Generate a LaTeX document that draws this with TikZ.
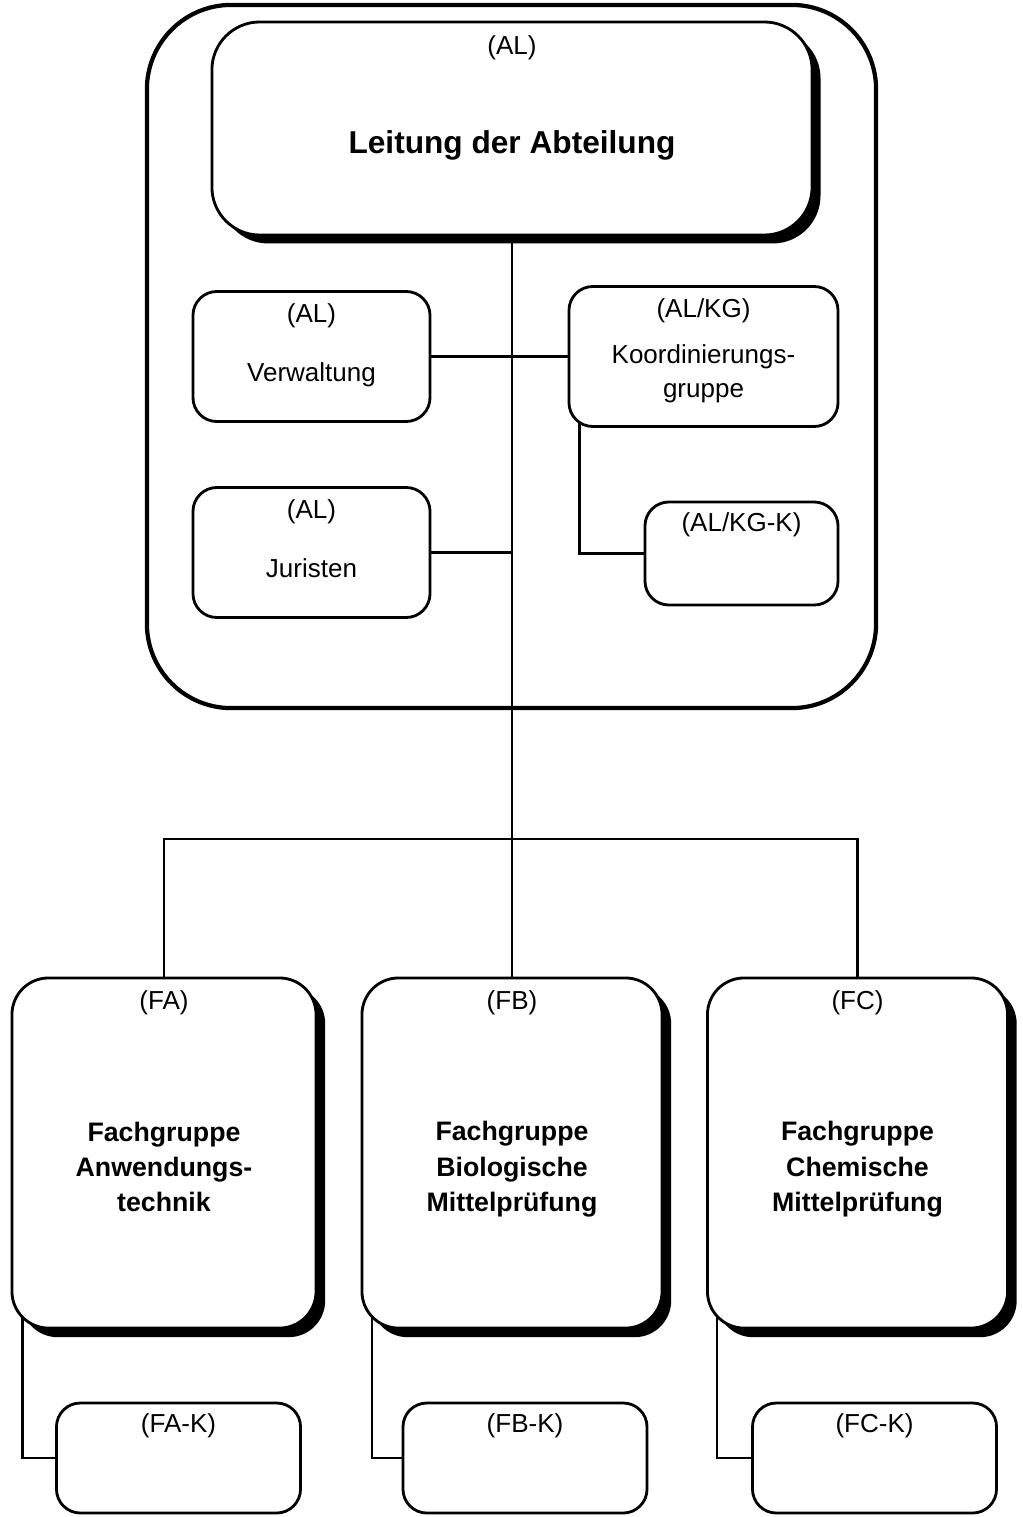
\documentclass[tikz,border=0pt]{standalone}
\usepackage{fontspec}
\setmainfont{Liberation Sans}
\usetikzlibrary{positioning, shadows, backgrounds, calc}

\begin{document}
\begin{tikzpicture}[
    x=0.025cm, y=-0.025cm,
    dept/.style={draw, line width=3pt, rounded corners=60pt, minimum width=18.225cm, minimum height=17.575cm},
    leadbox/.style={draw, line width=2pt, fill=white, rounded corners=34pt, minimum width=15cm, minimum height=5.325cm,
        drop shadow={shadow xshift=6pt, shadow yshift=-6pt, fill=black, opacity=1}},
    unitbox/.style={draw, line width=2pt, fill=white, rounded corners=17pt, minimum width=5.925cm, minimum height=3.25cm},
    coordbox/.style={draw, line width=2pt, fill=white, rounded corners=17pt, minimum width=6.725cm, minimum height=3.5cm},
    groupbox/.style={draw, line width=2pt, fill=white, rounded corners=26pt, minimum width=7.5cm, minimum height=8.75cm,
        drop shadow={shadow xshift=6.5pt, shadow yshift=-6.5pt, fill=black, opacity=1}},
    subbox/.style={draw, line width=2pt, fill=white, rounded corners=17pt, minimum width=6.1cm, minimum height=2.75cm},
    abbr/.style={font=\fontsize{18.5}{22}\selectfont, inner sep=0pt},
    unittext/.style={font=\fontsize{18.5}{24}\selectfont, align=center, inner sep=0pt},
    leadtext/.style={font=\fontsize{22.5}{27}\selectfont\bfseries, inner sep=0pt},
    grouptext/.style={font=\fontsize{19}{25}\selectfont\bfseries, align=center, inner sep=0pt},
    link/.style={line width=1.6pt}
]
    \useasboundingbox (0,0) rectangle (1023,1517);

    % Abteilung (outer frame)
    \node[dept] (dept) at (511.5,356.5) {};

    % Leitung
    \node[leadbox] (lead) at (512,128.5) {};
    \node[abbr] (leadabbr) at ([yshift=-19pt]lead.north) {(AL)};
    \node[leadtext] (leadname) at ([yshift=-12pt]lead.center) {Leitung der Abteilung};

    % Stabsstellen
    \node[unitbox] (verw) at (311.5,356.5) {};
    \node[abbr] (verwabbr) at ([yshift=-18.5pt]verw.north) {(AL)};
    \node[unittext] (verwname) at ([yshift=-13pt]verw.center) {Verwaltung};

    \node[unitbox] (jur) at (311.5,552.5) {};
    \node[abbr] (jurabbr) at ([yshift=-18.5pt]jur.north) {(AL)};
    \node[unittext] (jurname) at ([yshift=-11.5pt]jur.center) {Juristen};

    \node[coordbox] (kg) at (703.5,356.5) {};
    \node[abbr] (kgabbr) at ([yshift=-18pt]kg.north) {(AL/KG)};
    \node[unittext] (kgname) at ([yshift=-12.5pt]kg.center) {Koordinierungs-\\gruppe};

    \node[subbox, minimum width=4.825cm, minimum height=2.575cm] (kgk) at (741.5,553.5) {};
    \node[abbr] (kgkabbr) at ([yshift=-17.5pt]kgk.north) {(AL/KG-K)};

    % Fachgruppen
    \coordinate (bus) at (512,839);

    \node[groupbox, minimum width=7.6cm] (fa) at (164,1153) {};
    \node[abbr] (faabbr) at ([yshift=-18.5pt]fa.north) {(FA)};
    \node[grouptext] (faname) at ([yshift=-10pt]fa.center) {Fachgruppe\\Anwendungs-\\technik};

    \node[groupbox] (fb) at (512,1153) {};
    \node[abbr] (fbabbr) at ([yshift=-18.5pt]fb.north) {(FB)};
    \node[grouptext] (fbname) at ([yshift=-11.5pt]fb.center) {Fachgruppe\\Biologische\\Mittelprüfung};

    \node[groupbox] (fc) at (857.5,1153) {};
    \node[abbr] (fcabbr) at ([yshift=-18.5pt]fc.north) {(FC)};
    \node[grouptext] (fcname) at ([yshift=-11.5pt]fc.center) {Fachgruppe\\Chemische\\Mittelprüfung};

    % Koordinatoren der Fachgruppen
    \node[subbox] (fak) at (178.5,1458) {};
    \node[abbr] (fakabbr) at ([yshift=-17.5pt]fak.north) {(FA-K)};

    \node[subbox] (fbk) at (525,1458) {};
    \node[abbr] (fbkabbr) at ([yshift=-17.5pt]fbk.north) {(FB-K)};

    \node[subbox] (fck) at (874.5,1458) {};
    \node[abbr] (fckabbr) at ([yshift=-17.5pt]fck.north) {(FC-K)};

    % Connectors
    \begin{scope}[on background layer]
        \draw[link] (lead.south) -- (bus);
        \draw[link] (verw.east) -- (kg.west);
        \draw[link] (jur.east) -- (jur.east -| lead.south);
        \draw[link] ([xshift=8.5pt]kg.west) |- (kgk.west);

        \draw[link] (fa.north) |- (bus) -| (fc.north);
        \draw[link] (bus) -- (fb.north);

        \draw[link] ([xshift=8.5pt]fa.west) |- (fak.west);
        \draw[link] ([xshift=8pt]fb.west) |- (fbk.west);
        \draw[link] ([xshift=8pt]fc.west) |- (fck.west);
    \end{scope}
\end{tikzpicture}
\end{document}
